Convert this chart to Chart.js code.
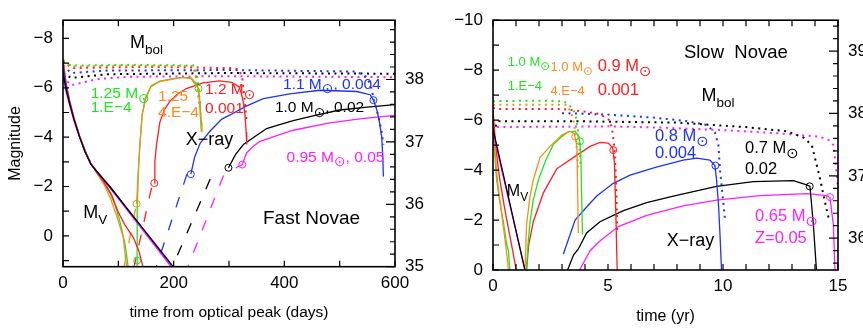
<!DOCTYPE html>
<html>
<head>
<meta charset="utf-8">
<script src="https://cdn.jsdelivr.net/npm/chart.js@4.4.0/dist/chart.umd.min.js"></script>
<style>
  html, body { margin: 0; padding: 0; background: #fff; overflow: hidden; }
  #wrap { position: relative; width: 863px; height: 331px; }
  #fast { position: absolute; left: 0; top: 0; }
  #slow { position: absolute; left: 430px; top: 0; }
</style>
</head>
<body>
<div id="wrap">
  <canvas id="fast" width="430" height="331"></canvas>
  <canvas id="slow" width="433" height="331"></canvas>
</div>
<script>
// ---- tick labels ----
const fastDayLabels = [0, 200, 400, 600];
const slowYrLabels = [0, 5, 10, 15];
const fastMagLabels = [-8, -6, -4, -2, 0];
const slowMagLabels = [-10, -8, -6, -4, -2, 0];
const fastLogLabels = [35, 36, 37, 38];
const slowLogLabels = [36, 37, 38, 39];

// ---- fast novae (days, magnitude) ----
// M_V decline
const fastVGreen   = [[0,-7.05],[6,-6.1],[12,-5.45],[20,-4.75],[30,-4.05],[40,-3.45],[50,-2.95],[60,-2.6],[75,-2.1],[86,-1.69],[95,-1.2],[103,-0.58],[112,0.32],[118,1.3]];
const fastVOrange  = [[0,-7.15],[6,-6.15],[12,-5.5],[20,-4.8],[30,-4.05],[40,-3.45],[50,-2.95],[60,-2.58],[75,-2.05],[86,-1.5],[95,-0.95],[102,-0.45],[109,0.06],[115,1.3]];
const fastVRed     = [[0,-7.1],[6,-6.1],[12,-5.45],[20,-4.75],[30,-4.05],[40,-3.45],[50,-2.95],[60,-2.62],[75,-2.15],[88,-1.65],[100,-0.95],[113,-0.4],[127,0.06],[137,0.6],[145,1.3]];
const fastVBlue    = [[0,-6.9],[6,-6.0],[12,-5.4],[20,-4.7],[30,-4.0],[40,-3.4],[50,-2.92],[60,-2.64],[86,-1.97],[198,1.3]];
const fastVBlack   = [[0,-6.6],[6,-5.9],[12,-5.35],[20,-4.7],[30,-4.0],[40,-3.4],[50,-2.92],[60,-2.64],[86,-1.95],[201,1.3]];
const fastVMagenta = [[0,-6.45],[6,-5.8],[12,-5.3],[20,-4.65],[30,-4.0],[40,-3.4],[50,-2.95],[60,-2.62],[86,-1.92],[197,1.3]];
// M_bol (dotted)
const fastBolGreen   = [[0,-7.05],[15,-6.9],[120,-6.93],[238,-6.9],[242,-6.5],[245,-6.0],[248,-5.3]];
const fastBolOrange  = [[0,-7.15],[15,-6.86],[120,-6.9],[235,-6.88],[240,-6.4],[243,-5.95],[246,-5.3]];
const fastBolRed     = [[0,-7.1],[15,-6.8],[150,-6.85],[300,-6.8],[318,-6.75],[324,-6.4],[328,-5.6],[332,-4.6]];
const fastBolBlue    = [[0,-6.9],[15,-6.6],[80,-6.7],[300,-6.72],[530,-6.66],[548,-6.45],[556,-6.1],[562,-5.5],[570,-4.85],[576,-4.2],[579,-3.7]];
const fastBolBlack   = [[0,-6.6],[15,-6.4],[80,-6.55],[300,-6.6],[600,-6.57]];
const fastBolMagenta = [[0,-6.45],[15,-6.1],[60,-6.35],[120,-6.45],[300,-6.47],[600,-6.43]];
// X-ray (solid)
const fastXGreen   = [[134,1.3],[134,-1.0],[136,-2.5],[139,-3.7],[143,-4.9],[149,-5.6],[159,-6.05],[175,-6.27],[199,-6.37],[217,-6.42],[232,-6.4],[240,-6.18],[245,-5.95],[248,-5.3],[250,-4.6],[251,-4.2]];
const fastXOrange  = [[133,-1.3],[136,-2.6],[139,-3.7],[143,-4.9],[150,-5.6],[160,-6.1],[175,-6.25],[199,-6.35],[217,-6.42],[232,-6.36],[240,-6.1],[245,-5.97],[247,-5.25],[250,-4.21]];
const fastXRed     = [[165,-2.14],[166,-3.0],[169,-3.7],[175,-4.6],[183,-5.1],[193,-5.45],[207,-5.75],[223,-5.97],[253,-6.2],[283,-6.28],[305,-6.22],[318,-6.05],[322,-5.8],[326,-5.4],[329,-4.86],[331,-4.2],[332,-3.7]];
const fastXBlue    = [[231,-2.5],[238,-3.2],[248,-3.76],[266,-4.25],[287,-4.73],[302,-4.9],[330,-5.25],[362,-5.56],[410,-5.75],[464,-5.9],[531,-5.85],[555,-5.72],[561,-5.5],[567,-5.12],[572,-4.6],[576,-4.0],[578,-3.2],[579,-2.4]];
const fastXBlack   = [[299,-2.76],[312,-3.3],[326,-3.7],[345,-4.0],[368,-4.35],[390,-4.5],[416,-4.67],[452,-4.86],[500,-5.1],[550,-5.22],[600,-5.32]];
const fastXMagenta = [[312,-2.75],[324,-2.89],[332,-3.37],[345,-3.65],[356,-3.83],[385,-4.05],[416,-4.28],[482,-4.58],[540,-4.75],[600,-4.88]];
// X-ray rise (dashed)
const fastDashOrange  = [[131,-1.1],[110,1.3]];
const fastDashRed     = [[160,-1.95],[128,1.3]];
const fastDashBlue    = [[224,-2.5],[168,1.3]];
const fastDashBlack   = [[266,-2.3],[197,1.3]];
const fastDashMagenta = [[290,-2.45],[225,1.3]];
// open circles
const fastMarkGreen   = [[134,1.0],[245,-5.97]];
const fastMarkOrange  = [[133,-1.3]];
const fastMarkRed     = [[165,-2.14]];
const fastMarkBlue    = [[231,-2.5],[561,-5.5]];
const fastMarkBlack   = [[299,-2.76]];
const fastMarkMagenta = [[324,-2.89]];

// ---- slow novae (years, magnitude) ----
const slowVGreen   = [[0,-5.6],[0.08,-4.6],[0.16,-3.6],[0.3,-2.7],[0.45,-1.93],[0.6,-1.0],[0.67,-0.77],[0.74,0.1]];
const slowVOrange  = [[0,-6.0],[0.1,-4.6],[0.2,-3.5],[0.4,-2.1],[0.55,-1.0],[0.64,-0.3],[0.67,0.1]];
const slowVRed     = [[0,-6.4],[0.1,-5.2],[0.2,-4.3],[0.3,-3.6],[0.5,-2.5],[0.67,-1.67],[0.85,-0.8],[0.97,-0.2],[1.02,0.1]];
const slowVBlack   = [[0,-5.65],[1.41,0.1]];
const slowVMagenta = [[0,-5.5],[1.42,0.1]];

const slowBolGreen   = [[0,-6.75],[0.1,-6.76],[2.0,-6.78],[3.1,-6.75],[3.35,-6.56],[3.57,-6.3],[3.7,-5.6],[3.76,-4.9],[3.82,-4.2]];
const slowBolOrange  = [[0,-6.6],[0.1,-6.62],[3.2,-6.62],[3.4,-6.3],[3.52,-5.9],[3.6,-5.3],[3.66,-4.6],[3.7,-4.0]];
const slowBolRed     = [[0,-6.5],[0.1,-6.45],[3.0,-6.45],[4.3,-6.3],[4.65,-6.24],[5.09,-5.98],[5.2,-5.5],[5.28,-4.9],[5.33,-4.0],[5.37,-3.0],[5.4,-1.5]];
const slowBolBlue    = [[3.0,-6.28],[5.0,-6.22],[7.0,-6.1],[8.5,-5.95],[9.3,-5.8],[9.65,-5.5],[9.8,-5.0],[9.87,-4.0],[10.0,-2.83],[10.09,-2.0]];
const slowBolBlack   = [[0,-5.5],[0.2,-5.95],[4,-5.95],[8,-5.9],[11,-5.72],[12.8,-5.55],[13.5,-5.3],[13.86,-5.0],[14.2,-3.73],[14.5,-2.44],[14.6,-2.06]];
const slowBolMagenta = [[0,-5.5],[0.2,-5.72],[5,-5.75],[7.3,-5.7],[10,-5.6],[12.4,-5.47],[14.2,-5.34],[14.6,-5.2],[14.8,-5.0],[14.9,-4.2],[15,-3.3]];

const slowXGreen   = [[1.45,0.1],[1.52,-1.0],[1.61,-1.93],[1.75,-2.8],[1.97,-3.6],[2.3,-4.4],[2.62,-5.02],[3.0,-5.35],[3.27,-5.53],[3.57,-5.56],[3.72,-5.35],[3.78,-5.1],[3.82,-4.5],[3.89,-1.42]];
const slowXOrange  = [[1.39,0.1],[1.46,-1.8],[1.6,-2.9],[1.75,-3.6],[2.04,-4.5],[2.48,-4.95],[2.99,-5.4],[3.35,-5.56],[3.52,-5.47],[3.6,-5.2],[3.65,-4.9],[3.71,-1.48]];
const slowXRed     = [[1.45,0.1],[1.55,-1.0],[1.75,-1.93],[2.19,-3.09],[2.77,-4.05],[3.49,-4.5],[4.22,-4.95],[4.65,-5.11],[5.01,-5.08],[5.2,-4.9],[5.28,-4.3],[5.32,-3.0],[5.36,-1.5],[5.4,0.1]];
const slowXBlue    = [[3.06,-0.64],[3.57,-2.0],[4.1,-2.55],[4.51,-2.96],[5.23,-3.47],[5.96,-3.8],[7.1,-4.12],[8.27,-4.4],[8.86,-4.48],[9.43,-4.4],[9.65,-4.18],[9.72,-3.6],[9.8,-2.7],[9.87,-1.4],[9.94,0.1]];
const slowXBlack   = [[3.2,0.1],[3.5,-0.6],[3.71,-0.84],[4.07,-1.48],[4.65,-1.93],[5.67,-2.38],[6.68,-2.7],[7.84,-2.96],[9.72,-3.35],[11.32,-3.54],[13.06,-3.58],[13.64,-3.41],[13.78,-3.35],[13.93,-1.8],[14.07,0.1]];
const slowXMagenta = [[3.71,0.1],[4.0,-0.4],[4.22,-0.77],[4.65,-1.16],[5.45,-1.74],[6.68,-2.19],[8.27,-2.57],[9.72,-2.8],[11.6,-2.98],[13.64,-3.06],[14.5,-2.98],[14.65,-2.9],[14.8,-1.8],[14.87,0.1]];

const slowMarkGreen   = [[3.78,-5.15]];
const slowMarkOrange  = [[3.57,-5.34]];
const slowMarkRed     = [[5.23,-4.8]];
const slowMarkBlue    = [[9.67,-4.18]];
const slowMarkBlack   = [[13.77,-3.35]];
const slowMarkMagenta = [[14.65,-2.92]];

const COL = { green: '#1ee61e', orange: '#ff8a1c', red: '#ff1e1e', blue: '#1e32ff', black: '#000000', magenta: '#ff1eff' };
const FN = "'Liberation Sans Narrow', 'Liberation Sans', 'DejaVu Sans', sans-serif";
const FR = "'Liberation Sans', 'DejaVu Sans', sans-serif";

function pts(arr) { return arr.map(p => ({ x: p[0], y: p[1] })); }

function line(arr, color, kind) {
  const ds = { data: pts(arr), borderColor: color, borderWidth: 1.3, pointRadius: 0, showLine: true, fill: false, tension: 0 };
  if (kind === 'dot') { ds.borderDash = [2, 4.5]; ds.borderWidth = 2; }
  if (kind === 'dash') { ds.borderDash = [11, 13]; }
  return ds;
}

function marks(arr, color) {
  return { data: pts(arr), showLine: false, pointRadius: 3.5, pointStyle: 'circle',
           pointBorderColor: color, pointBackgroundColor: 'rgba(0,0,0,0)', pointBorderWidth: 1 };
}

function fmt(v) { return v < 0 ? '\u2212' + (-v) : String(v); }

// text with _{...} subscripts; the sun sign is drawn a bit larger
function drawRich(ctx, x, y, text, size, family) {
  const parts = text.split(/(_\{[^}]*\})/).filter(Boolean);
  let cx = x;
  parts.forEach(p => {
    const sub = p.startsWith('_{');
    const s = sub ? p.slice(2, -1) : p;
    const sun = s === '\u2299';
    const fs = sub ? size * (sun ? 0.9 : 0.75) : size;
    ctx.font = fs + 'px ' + (sun ? "'DejaVu Sans', sans-serif" : family);
    ctx.fillText(s, cx, sub ? y + size * (sun ? 0.3 : 0.35) : y);
    cx += ctx.measureText(s).width;
  });
}

function framePlugin(texts, titles) {
  return {
    id: 'frame',
    afterDatasetsDraw(chart) {
      const { ctx, chartArea: a, scales } = chart;
      ctx.save();
      ctx.strokeStyle = '#000';
      ctx.lineWidth = 1.2;
      ctx.beginPath();
      scales.x.ticks.forEach(t => {
        const px = scales.x.getPixelForValue(t.value);
        ctx.moveTo(px, a.bottom); ctx.lineTo(px, a.bottom - 6);
        ctx.moveTo(px, a.top); ctx.lineTo(px, a.top + 6);
      });
      scales.y.ticks.forEach(t => {
        const py = scales.y.getPixelForValue(t.value);
        ctx.moveTo(a.left, py); ctx.lineTo(a.left + 6, py);
      });
      scales.y2.ticks.forEach(t => {
        const py = scales.y2.getPixelForValue(t.value);
        const major = Math.abs(t.value - Math.round(t.value)) < 1e-6;
        ctx.moveTo(a.right, py); ctx.lineTo(a.right - (major ? 9 : 5), py);
      });
      ctx.stroke();
      ctx.lineWidth = 1.6;
      ctx.strokeRect(a.left, a.top, a.right - a.left, a.bottom - a.top);

      ctx.textBaseline = 'alphabetic';
      ctx.textAlign = 'left';
      texts.forEach(t => {
        ctx.fillStyle = t.color || '#000';
        drawRich(ctx, scales.x.getPixelForValue(t.x), scales.y.getPixelForValue(t.y), t.text, t.size, t.family || FN);
      });

      ctx.fillStyle = '#000';
      ctx.textAlign = 'center';
      ctx.textBaseline = 'middle';
      titles.forEach(t => {
        ctx.font = t.size + 'px ' + FR;
        ctx.save();
        if (t.rot) {
          ctx.translate(t.px, (a.top + a.bottom) / 2);
          ctx.rotate(-Math.PI / 2);
          ctx.fillText(t.text, 0, 0);
        } else {
          ctx.fillText(t.text, (a.left + a.right) / 2, a.bottom + t.dy);
        }
        ctx.restore();
      });
      ctx.restore();
    }
  };
}

function makeChart(id, o) {
  const tickFont = { family: FN, size: 17 };
  return new Chart(document.getElementById(id), {
    type: 'scatter',
    data: { datasets: o.datasets },
    options: {
      responsive: false,
      animation: false,
      events: [],
      layout: { padding: { top: 11, left: 0, right: 0, bottom: 0 } },
      plugins: { legend: { display: false }, tooltip: { enabled: false } },
      scales: {
        x: {
          type: 'linear', position: 'bottom', min: o.xMin, max: o.xMax,
          grid: { display: false, drawTicks: false }, border: { display: false },
          ticks: { stepSize: o.xStep, includeBounds: false, maxRotation: 0, autoSkip: false, padding: 6, color: '#000', font: tickFont,
                   callback: v => o.xLabels.includes(v) ? String(v) : '' },
          afterFit: s => { s.height = o.xHeight; }
        },
        y: {
          type: 'linear', position: 'left', reverse: true, min: o.yMin, max: o.yMax,
          grid: { display: false, drawTicks: false }, border: { display: false },
          ticks: { stepSize: 1, includeBounds: false, autoSkip: false, padding: 10, color: '#000', font: tickFont,
                   callback: v => o.yLabels.includes(v) ? fmt(v) : '' },
          afterFit: s => { s.width = 63; }
        },
        y2: {
          type: 'linear', position: 'right', min: o.y2Min, max: o.y2Max,
          grid: { display: false, drawTicks: false }, border: { display: false },
          ticks: { stepSize: 0.2, includeBounds: false, autoSkip: false, padding: 10, color: '#000', font: tickFont,
                   callback: v => { const r = Math.round(v); return (Math.abs(v - r) < 1e-6 && o.y2Labels.includes(r)) ? String(r) : ''; } },
          afterFit: s => { s.width = o.y2Width; }
        }
      }
    },
    plugins: [framePlugin(o.texts, o.titles)]
  });
}

makeChart('fast', {
  xMin: 0, xMax: 600, xStep: 100, xLabels: fastDayLabels, xHeight: 64.3,
  yMin: -8.74, yMax: 1.25, yLabels: fastMagLabels,
  y2Min: 35, y2Max: 38.95, y2Labels: fastLogLabels, y2Width: 35,
  datasets: [
    line(fastVBlack, COL.black), line(fastVMagenta, COL.magenta), line(fastVBlue, COL.blue),
    line(fastVRed, COL.red), line(fastVOrange, COL.orange), line(fastVGreen, COL.green),
    line(fastXOrange, COL.orange), line(fastXGreen, COL.green), line(fastXRed, COL.red),
    line(fastXBlue, COL.blue), line(fastXBlack, COL.black), line(fastXMagenta, COL.magenta),
    line(fastDashOrange, COL.orange, 'dash'), line(fastDashRed, COL.red, 'dash'), line(fastDashBlue, COL.blue, 'dash'),
    line(fastDashBlack, COL.black, 'dash'), line(fastDashMagenta, COL.magenta, 'dash'),
    line(fastBolGreen, COL.green, 'dot'), line(fastBolOrange, COL.orange, 'dot'), line(fastBolRed, COL.red, 'dot'),
    line(fastBolBlue, COL.blue, 'dot'), line(fastBolBlack, COL.black, 'dot'), line(fastBolMagenta, COL.magenta, 'dot'),
    marks(fastMarkGreen, COL.green), marks(fastMarkOrange, COL.orange), marks(fastMarkRed, COL.red),
    marks(fastMarkBlue, COL.blue), marks(fastMarkBlack, COL.black), marks(fastMarkMagenta, COL.magenta)
  ],
  texts: [
    { x: 121, y: -7.63, text: 'M_{bol}', size: 18, family: FR },
    { x: 50, y: -5.58, text: '1.25 M_{\u2299}', size: 15.5, color: COL.green },
    { x: 50, y: -5.0, text: '1.E\u22124', size: 15.5, color: COL.green },
    { x: 171.7, y: -5.45, text: '1.25', size: 15.5, color: COL.orange },
    { x: 171.7, y: -4.83, text: '4.E\u22124', size: 15.5, color: COL.orange },
    { x: 256.6, y: -5.73, text: '1.2 M_{\u2299}', size: 15.5, color: COL.red },
    { x: 256.6, y: -4.98, text: '0.001', size: 15.5, color: COL.red },
    { x: 397.6, y: -5.97, text: '1.1 M_{\u2299}, 0.004', size: 15.5, color: COL.blue },
    { x: 383, y: -5.0, text: '1.0 M_{\u2299}, 0.02', size: 15.5, color: COL.black },
    { x: 404, y: -3.0, text: '0.95 M_{\u2299}, 0.05', size: 15.5, color: COL.magenta },
    { x: 222, y: -3.7, text: 'X\u2212ray', size: 18, family: FR },
    { x: 36.7, y: -0.74, text: 'M_{V}', size: 18, family: FR },
    { x: 361.4, y: -0.47, text: 'Fast Novae', size: 19, family: FR }
  ],
  titles: [
    { text: 'time from optical peak (days)', size: 15.5, dy: 46 },
    { text: 'Magnitude', size: 16, rot: true, px: 16 }
  ]
});

makeChart('slow', {
  xMin: 0, xMax: 15, xStep: 1, xLabels: slowYrLabels, xHeight: 61,
  yMin: -10, yMax: 0, yLabels: slowMagLabels,
  y2Min: 35.49, y2Max: 39.495, y2Labels: slowLogLabels, y2Width: 25,
  datasets: [
    line(slowVBlack, COL.black), line(slowVMagenta, COL.magenta), line(slowVRed, COL.red),
    line(slowVOrange, COL.orange), line(slowVGreen, COL.green),
    line(slowXOrange, COL.orange), line(slowXGreen, COL.green), line(slowXRed, COL.red),
    line(slowXBlue, COL.blue), line(slowXBlack, COL.black), line(slowXMagenta, COL.magenta),
    line(slowBolGreen, COL.green, 'dot'), line(slowBolOrange, COL.orange, 'dot'), line(slowBolRed, COL.red, 'dot'),
    line(slowBolBlue, COL.blue, 'dot'), line(slowBolBlack, COL.black, 'dot'), line(slowBolMagenta, COL.magenta, 'dot'),
    marks(slowMarkGreen, COL.green), marks(slowMarkOrange, COL.orange), marks(slowMarkRed, COL.red),
    marks(slowMarkBlue, COL.blue), marks(slowMarkBlack, COL.black), marks(slowMarkMagenta, COL.magenta)
  ],
  texts: [
    { x: 8.3, y: -8.47, text: 'Slow  Novae', size: 18.5, family: FR },
    { x: 0.64, y: -8.17, text: '1.0 M_{\u2299}', size: 13, color: COL.green },
    { x: 0.64, y: -7.2, text: '1.E\u22124', size: 13, color: COL.green },
    { x: 2.5, y: -7.98, text: '1.0 M_{\u2299}', size: 13, color: COL.orange },
    { x: 2.5, y: -6.99, text: '4.E\u22124', size: 13, color: COL.orange },
    { x: 4.55, y: -7.95, text: '0.9 M_{\u2299}', size: 16.5, color: COL.red },
    { x: 4.55, y: -6.99, text: '0.001', size: 16.5, color: COL.red },
    { x: 9.07, y: -6.76, text: 'M_{bol}', size: 18, family: FR },
    { x: 7.04, y: -5.15, text: '0.8 M_{\u2299}', size: 16.5, color: COL.blue },
    { x: 7.04, y: -4.48, text: '0.004', size: 16.5, color: COL.blue },
    { x: 10.96, y: -4.67, text: '0.7 M_{\u2299}', size: 16.5, color: COL.black },
    { x: 10.96, y: -3.86, text: '0.02', size: 16.5, color: COL.black },
    { x: 11.39, y: -1.97, text: '0.65 M_{\u2299}', size: 16.5, color: COL.magenta },
    { x: 11.39, y: -1.09, text: 'Z=0.05', size: 16.5, color: COL.magenta },
    { x: 7.55, y: -0.97, text: 'X\u2212ray', size: 18, family: FR },
    { x: 0.6, y: -2.97, text: 'M_{V}', size: 16, family: FR }
  ],
  titles: [
    { text: 'time (yr)', size: 16, dy: 47 }
  ]
});
</script>
</body>
</html>
